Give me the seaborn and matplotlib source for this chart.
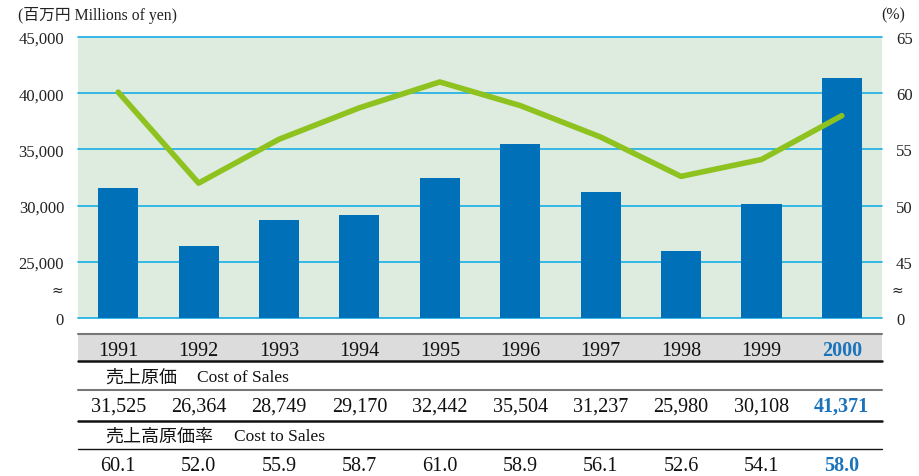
import numpy as np
import pandas as pd
import matplotlib
matplotlib.use("Agg")
import matplotlib.pyplot as plt
from matplotlib.lines import Line2D
from matplotlib import transforms
import seaborn as sns

# data
years = ["1991", "1992", "1993", "1994", "1995", "1996", "1997", "1998", "1999", "2000"]
cost_of_sales = [31525, 26364, 28749, 29170, 32442, 35504, 31237, 25980, 30108, 41371]
cost_ratio = [60.1, 52.0, 55.9, 58.7, 61.0, 58.9, 56.1, 52.6, 54.1, 58.0]

left_ticks = [20000, 25000, 30000, 35000, 40000, 45000]
left_labels = ["0", "25,000", "30,000", "35,000", "40,000", "45,000"]
right_ticks = [40, 45, 50, 55, 60, 65]
right_labels = ["0", "45", "50", "55", "60", "65"]

BAR = "#0071b9"
LINE = "#8dc21f"
GRID = "#27b4e6"
BG = "#deebdf"
HILITE = "#1b74bb"

serif = ["Liberation Serif", "Noto Sans CJK JP"]
jp = ["Noto Sans CJK JP", "DejaVu Sans"]

sns.set_theme(style="white")
plt.rcParams["font.family"] = serif

W, H = 920, 477
fig = plt.figure(figsize=(W / 100, H / 100), dpi=100)

def fx(px):
    return px / W

def fy(py):
    return 1 - py / H

ax = fig.add_axes([fx(78), fy(319), fx(882) - fx(78), fy(38) - fy(319)])
ax.set_facecolor(BG)

df = pd.DataFrame({"year": years, "cost": cost_of_sales, "ratio": cost_ratio})
sns.barplot(data=df, x="year", y="cost", color=BAR, width=0.5, saturation=1,
            edgecolor="none", linewidth=0, ax=ax, zorder=3)
ax.set_xlim(-0.5, len(years) - 0.5)
ax.set_ylim(left_ticks[0], left_ticks[-1])
ax.set_yticks(left_ticks)
ax.set_yticklabels(left_labels, fontsize=12, color="#222222")
ax.set_xticks([])
ax.set_xlabel("")
ax.set_ylabel("")
for y in left_ticks:
    ax.axhline(y, color=GRID, lw=1.3, zorder=1, clip_on=False)
for s in ax.spines.values():
    s.set_visible(False)
ax.tick_params(axis="y", length=0, pad=10)

ax2 = ax.twinx()
sns.lineplot(x=np.arange(len(years)), y=df["ratio"], color=LINE, lw=4, ax=ax2)
ax2.set_ylim(right_ticks[0], right_ticks[-1])
ax2.set_yticks(right_ticks)
ax2.set_yticklabels(right_labels, fontsize=12, color="#222222")
ax2.set_ylabel("")
ax2.tick_params(axis="y", length=0, pad=10)
for s in ax2.spines.values():
    s.set_visible(False)
ax2.patch.set_visible(False)

# broken-axis marks
fig.text(fx(57), fy(291), "≈", ha="center", va="center", fontsize=10, color="#222222",
         family="DejaVu Sans")
fig.text(fx(897), fy(291), "≈", ha="center", va="center", fontsize=10, color="#222222",
         family="DejaVu Sans")

fig.text(fx(18), fy(15), "(百万円 Millions of yen)", ha="left", va="center", fontsize=11.3,
         color="#222222")
fig.text(fx(893), fy(15), "(%)", ha="center", va="center", fontsize=11.3, color="#222222")

# table under the chart
x0, x1 = fx(78), fx(882)
fig.add_artist(plt.Rectangle((x0, fy(362)), x1 - x0, fy(335) - fy(362), zorder=-5,
                             transform=fig.transFigure, facecolor="#dcdcdc", edgecolor="none"))
fig.add_artist(Line2D([x0, x1], [fy(335), fy(335)], transform=fig.transFigure, color="#777777", lw=1.5))
fig.add_artist(Line2D([x0, x1], [fy(362), fy(362)], transform=fig.transFigure, color="#111111", lw=1.8))
fig.add_artist(Line2D([x0, x1], [fy(391), fy(391)], transform=fig.transFigure, color="#777777", lw=1.5))
fig.add_artist(Line2D([x0, x1], [fy(422), fy(422)], transform=fig.transFigure, color="#111111", lw=1.8))
fig.add_artist(Line2D([x0, x1], [fy(450), fy(450)], transform=fig.transFigure, color="#111111", lw=1.0))

tr = transforms.blended_transform_factory(ax.transData, fig.transFigure)
last = len(years) - 1
for i, yr in enumerate(years):
    hl = i == last
    style = dict(transform=tr, ha="center", va="baseline", fontsize=14.5, clip_on=False,
                 color=HILITE if hl else "#111111", weight="bold" if hl else "normal")
    ax.text(i, fy(356), yr, **style)
    ax.text(i, fy(412), f"{cost_of_sales[i]:,}", **style)
    ax.text(i, fy(471), f"{cost_ratio[i]:.1f}", **style)

fig.text(fx(105), fy(378), "売上原価", ha="left", va="center", fontsize=13, family=jp, color="#111111")
fig.text(fx(197), fy(378), "Cost of Sales", ha="left", va="center", fontsize=12.5, color="#111111")
fig.text(fx(105), fy(437), "売上高原価率", ha="left", va="center", fontsize=13, family=jp, color="#111111")
fig.text(fx(234), fy(437), "Cost to Sales", ha="left", va="center", fontsize=12.5, color="#111111")

fig.savefig("out.png", dpi=100)
